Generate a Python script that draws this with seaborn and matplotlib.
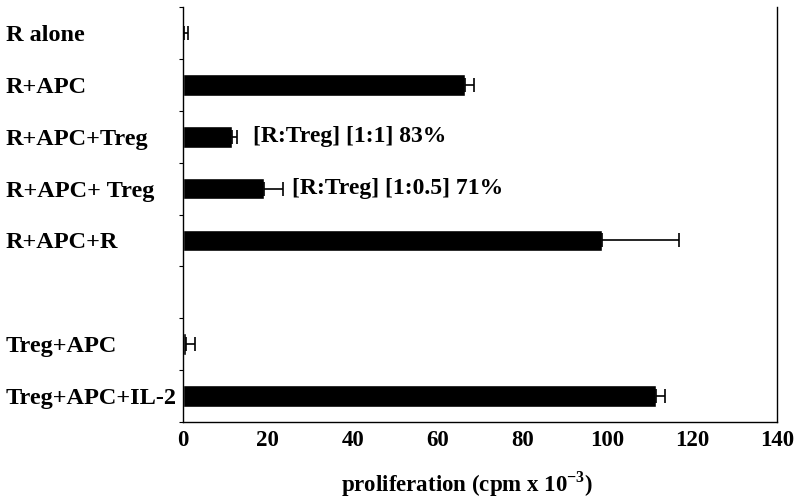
import matplotlib
matplotlib.use("Agg")
import matplotlib.pyplot as plt
import seaborn as sns
import pandas as pd
import numpy as np

categories = ["R alone", "R+APC", "R+APC+Treg", "R+APC+ Treg", "R+APC+R",
              "Treg+APC", "Treg+APC+IL-2"]
values = [0.3, 66.5, 11.5, 19.0, 98.8, 0.7, 111.5]
errors = [0.8, 2.1, 1.2, 4.6, 18.2, 2.1, 2.1]
slot_order = ["R alone", "R+APC", "R+APC+Treg", "R+APC+ Treg", "R+APC+R",
              " ", "Treg+APC", "Treg+APC+IL-2"]
annotations = {"R+APC+Treg": "[R:Treg] [1:1] 83%",
               "R+APC+ Treg": "[R:Treg] [1:0.5] 71%"}
annot_x = {"R+APC+Treg": 16.5, "R+APC+ Treg": 25.6}
xticks = [0, 20, 40, 60, 80, 100, 120, 140]

sns.set_theme(style="white")
plt.rcParams['font.family'] = ['Liberation Serif', 'DejaVu Serif']
plt.rcParams['font.weight'] = 'bold'
plt.rcParams['text.color'] = 'black'
plt.rcParams['axes.labelcolor'] = 'black'
plt.rcParams['xtick.color'] = 'black'
plt.rcParams['ytick.color'] = 'black'
plt.rcParams['mathtext.fontset'] = 'custom'
plt.rcParams['mathtext.rm'] = 'Liberation Serif:bold'
plt.rcParams['mathtext.bf'] = 'Liberation Serif:bold'

df = pd.DataFrame({"cat": categories, "val": values, "err": errors})

fig = plt.figure(figsize=(7.96, 5.0), dpi=100)
ax = fig.add_axes([183/796, 1-422/500, (777-183)/796, (422-7)/500])

sns.barplot(data=df, x="val", y="cat", order=slot_order, orient="h",
            color="black", width=0.42, errorbar=None, ax=ax, saturation=1)

pos = [slot_order.index(c) for c in categories]
ax.errorbar(values, pos, xerr=[np.zeros(len(errors)), errors], fmt="none",
            ecolor="black", elinewidth=1.2, capsize=5, capthick=1.2)

for cat, txt in annotations.items():
    ax.text(annot_x[cat], slot_order.index(cat), txt, fontsize=17,
            fontweight="bold", va="center", ha="left", color="black")

ax.set_xlim(0, 140)
ax.set_ylim(7.5, -0.5)
ax.set_xticks(xticks)
ax.set_xticklabels([str(t) for t in xticks], fontsize=16.5, fontweight="bold")
ax.tick_params(axis="x", direction="in", length=3, width=0.8, color="black",
               labelcolor="black", pad=6)

ax.set_yticks(range(len(slot_order)))
ax.set_yticklabels(slot_order, fontsize=17.5, fontweight="bold", ha="left")
ax.tick_params(axis="y", which="major", length=0, pad=(183-6)*0.72,
               labelcolor="black")
ax.set_yticks(np.arange(-0.5, 8.0, 1.0), minor=True)
ax.tick_params(axis="y", which="minor", direction="out", length=3, width=0.8,
               color="black", left=True)

for s in ["left", "bottom", "right"]:
    ax.spines[s].set_visible(True)
    ax.spines[s].set_color("black")
    ax.spines[s].set_linewidth(1.0)
ax.spines["top"].set_visible(False)

ax.set_ylabel("")
ax.set_xlabel(r"proliferation (cpm x 10$^{\mathbf{-3}}$)", fontsize=16.5,
              fontweight="bold", color="black", va="center")
ax.xaxis.set_label_coords((467-183)/594, (422-484)/415)

fig.savefig("out.png", dpi=100)
